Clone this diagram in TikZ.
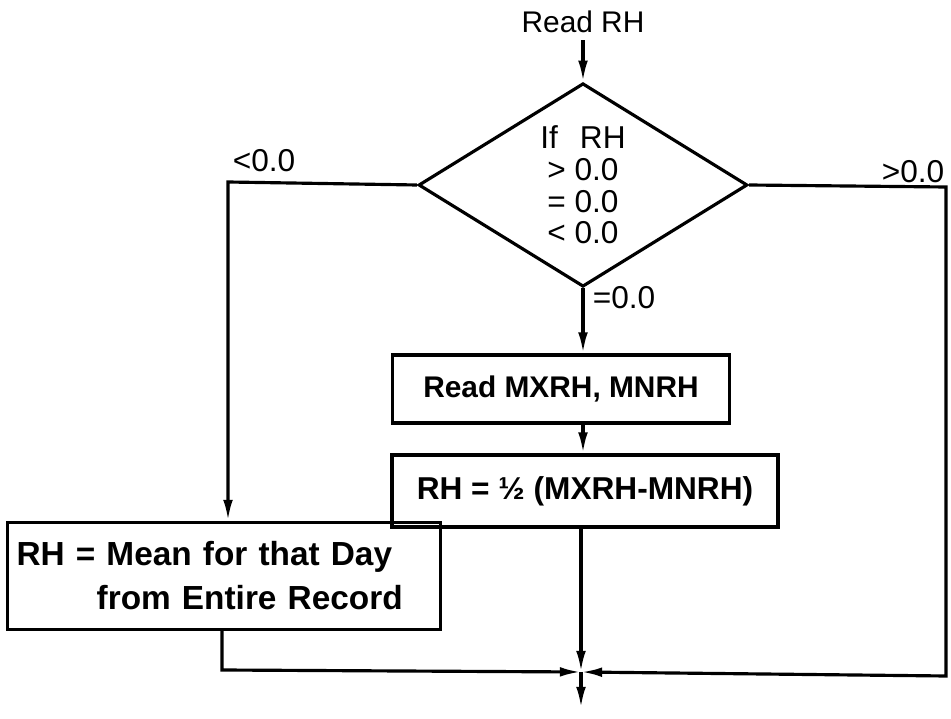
\documentclass[tikz,border=0pt]{standalone}
\usepackage{fontspec}
\setmainfont{Liberation Sans}
\usetikzlibrary{arrows.meta,positioning,calc,shapes.geometric}
\newcommand{\flowfont}{\fontsize{18}{18}\selectfont}
\newcommand{\boxfont}{\fontsize{17}{22}\selectfont\bfseries}

\begin{document}
\begin{tikzpicture}[x=0.02cm,y=-0.02cm,line width=1.8pt,
  >={Latex[length=12pt,width=5.5pt]},
  every node/.style={font=\flowfont},
  box/.style={draw,rectangle,inner sep=0pt,font=\boxfont}]
  \useasboundingbox (0,0) rectangle (951,719);

  % Input and decision
  \node[font=\fontsize{17}{20}\selectfont] (readrh) at (583,22) {Read RH};
  \node[diamond,draw,inner sep=0pt,align=center,
    minimum width=6.58cm,minimum height=3.86cm] (dec) at (583,185)
    {If\hspace{0.7em}RH\\> 0.0\\= 0.0\\< 0.0};
  \draw[->] (readrh) -- (dec.north);

  % Boxes
  \node[box,minimum width=6.74cm,minimum height=1.36cm] (box1) at (561,389) {Read MXRH, MNRH};
  \node[box,minimum width=7.72cm,minimum height=1.44cm,font=\fontsize{18}{22}\selectfont\bfseries]
    (box2) at (585,491) {RH = ½ (MXRH-MNRH)};
  \node[box,text width=8.3cm,inner xsep=0.18cm,minimum height=2.14cm,align=left,
    font=\fontsize{19}{25}\selectfont\bfseries] (box3) at (224,576)
    {RH = Mean for that Day\\\hspace*{2.4em}from Entire Record};

  % Corners and junction
  \coordinate (lt) at (228,182);
  \coordinate (rt) at (946,187);
  \coordinate (rb) at (946,676);
  \coordinate (lb) at (222,670);
  \coordinate (jn) at (581,672);
  \coordinate (out) at (581,708);

  % Branch labels
  \node (ltlbl) at (264,161) {<0.0};
  \node (rtlbl) at (913,172) {>0.0};
  \node (eqlbl) at (624,298) {=0.0};

  % Connectors
  \draw[->] (dec.west) -- (lt) -- (lt |- box3.north);
  \draw[->] (dec.south) -- (dec.south |- box1.north);
  \draw[->] (box1.south -| dec.south) -- (box2.north -| dec.south);
  \draw[->] (box2.south -| jn) -- (jn);
  \draw[->] (box3.south -| lb) -- (lb) -- (jn);
  \draw[->] (dec.east) -- (rt) -- (rb) -- (jn);
  \draw[->] (jn) -- (out);
\end{tikzpicture}
\end{document}
